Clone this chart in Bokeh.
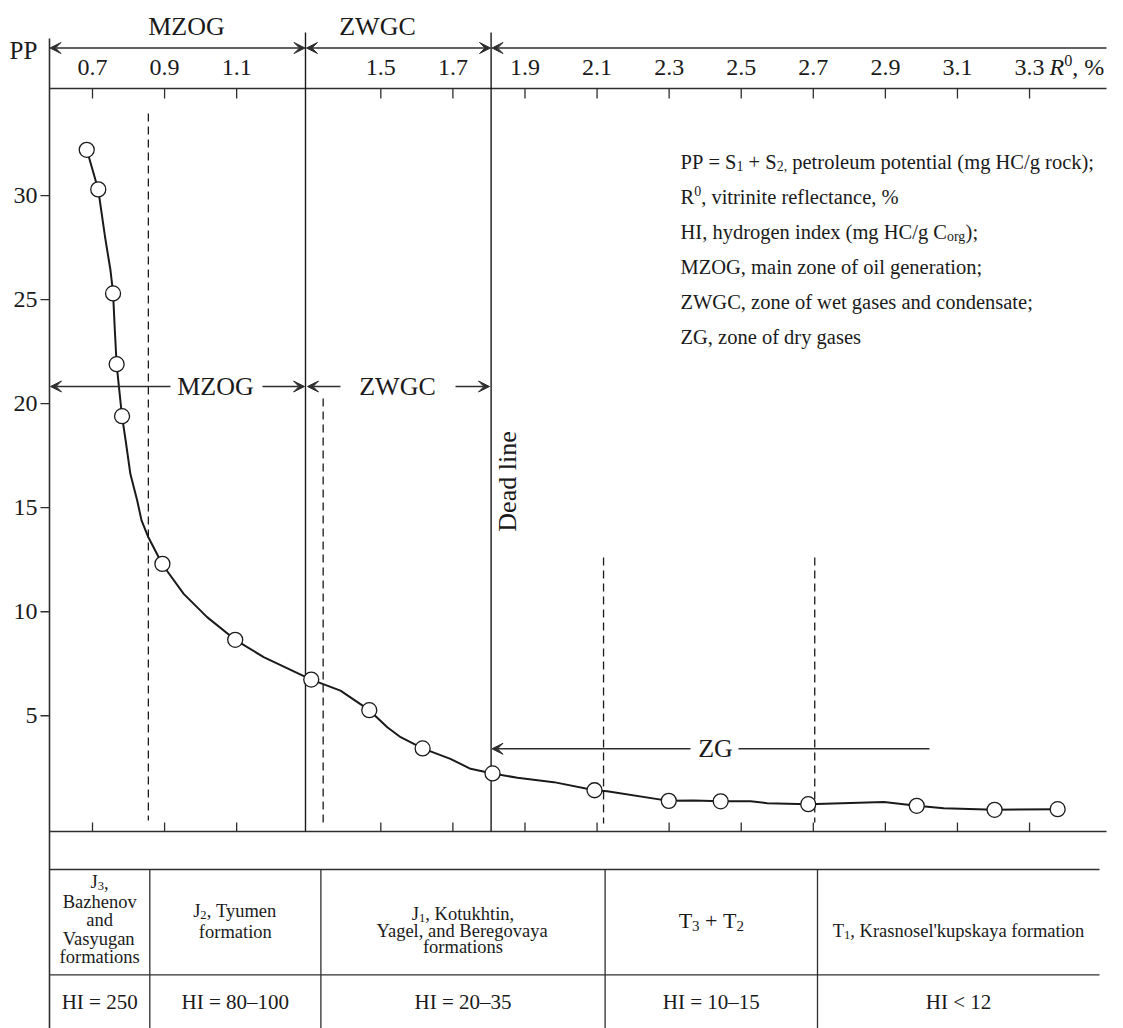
import math
from bokeh.plotting import figure
from bokeh.models import Range1d, Arrow, VeeHead
from bokeh.core.properties import value
from bokeh.embed import file_html
from bokeh.resources import INLINE

# ---------------- data ----------------
r_points = [0.684, 0.716, 0.757, 0.767, 0.782, 0.894, 1.096, 1.307, 1.468,
            1.616, 1.810, 2.093, 2.299, 2.443, 2.686, 2.987, 3.203, 3.378]
pp_points = [32.2, 30.3, 25.3, 21.9, 19.4, 12.3, 8.65, 6.74, 5.27,
             3.43, 2.23, 1.42, 0.91, 0.89, 0.75, 0.67, 0.48, 0.51]

curve_r = [0.684, 0.716, 0.735, 0.750, 0.757, 0.762, 0.767, 0.782, 0.792, 0.805,
           0.824, 0.836, 0.855, 0.894, 0.953, 1.018, 1.096, 1.175, 1.307, 1.388,
           1.468, 1.518, 1.555, 1.616, 1.693, 1.749, 1.810, 1.879, 1.980, 2.093,
           2.128, 2.299, 2.368, 2.443, 2.526, 2.572, 2.686, 2.896, 2.987, 3.062,
           3.203, 3.378]
curve_pp = [32.22, 30.28, 27.99, 26.40, 25.34, 23.52, 21.87, 19.38, 18.23, 16.63,
            15.35, 14.39, 13.58, 12.27, 10.86, 9.74, 8.65, 7.82, 6.74, 6.21,
            5.27, 4.45, 3.97, 3.43, 2.93, 2.45, 2.23, 2.02, 1.81, 1.42,
            1.37, 0.91, 0.93, 0.89, 0.89, 0.80, 0.75, 0.85, 0.67, 0.56,
            0.48, 0.51]

r_ticks = [0.7, 0.9, 1.1, 1.5, 1.7, 1.9, 2.1, 2.3, 2.5, 2.7, 2.9, 3.1, 3.3]
r_tick_labels = ["0.7", "0.9", "1.1", "1.5", "1.7", "1.9", "2.1", "2.3",
                 "2.5", "2.7", "2.9", "3.1", "3.3"]
pp_ticks = [5, 10, 15, 20, 25, 30]
pp_tick_labels = ["5", "10", "15", "20", "25", "30"]

zone_lines_r = [1.291, 1.806]          # MZOG/ZWGC boundary, dead line
dashed_r = [0.855, 1.340, 2.118, 2.704]

hi_labels = ["HI = 250", "HI = 80\u2013100", "HI = 20\u201335", "HI = 10\u201315", "HI < 12"]

# ---------------- layout helpers (reference-pixel -> data) ----------------
X0, SX = 92.0, 360.4      # px of R=0.7, px per unit R
Y0, SY = 819.3, 20.806    # px of PP=0, px per unit PP


def rx(X):
    return 0.7 + (X - X0) / SX


def vy(Y):
    return (Y0 - Y) / SY


FONT = "Liberation Serif"
INK = "#1a1a1a"
AX = "#2e2e2e"
NB = "\u00a0"

W = {' ': 250, NB: 250, '!': 333, '%': 833, "'": 180, '(': 333, ')': 333, '+': 564, ',': 250,
     '-': 333, '.': 250, '/': 278, ':': 278, ';': 278, '<': 564, '=': 564, '>': 564,
     '\u2013': 500,
     'A': 722, 'B': 667, 'C': 667, 'D': 722, 'E': 611, 'F': 556, 'G': 722, 'H': 722,
     'I': 333, 'J': 389, 'K': 722, 'L': 611, 'M': 889, 'N': 722, 'O': 722, 'P': 556,
     'Q': 722, 'R': 667, 'S': 556, 'T': 611, 'U': 722, 'V': 722, 'W': 944, 'X': 722,
     'Y': 722, 'Z': 611,
     'a': 444, 'b': 500, 'c': 444, 'd': 500, 'e': 444, 'f': 333, 'g': 500, 'h': 500,
     'i': 278, 'j': 278, 'k': 500, 'l': 278, 'm': 778, 'n': 500, 'o': 500, 'p': 500,
     'q': 500, 'r': 333, 's': 389, 't': 278, 'u': 500, 'v': 500, 'w': 722, 'x': 500,
     'y': 500, 'z': 444}


def tw(s, fs, italic=False):
    if italic:
        return sum(611 if c == 'R' else W.get(c, 500) for c in s) / 1000.0 * fs
    return sum(W.get(c, 500) for c in s) / 1000.0 * fs


p = figure(width=1123, height=1028,
           x_range=Range1d(rx(0), rx(1123)), y_range=Range1d(vy(1028), vy(0)),
           output_backend="svg", toolbar_location=None,
           x_axis_location=None, y_axis_location=None,
           min_border=0, outline_line_color=None,
           background_fill_color="white", border_fill_color="white")
p.grid.visible = False


def text(x, y, s, fs, align="center", baseline="middle", style="normal", angle=0.0,
         x_offset=0.0, y_offset=0.0):
    p.text(x=[x], y=[y], text=[s], text_font=value(FONT),
           text_font_size=value(f"{fs:.1f}px"), text_font_style=style,
           text_align=align, text_baseline=baseline, text_color=INK, angle=angle,
           x_offset=x_offset, y_offset=y_offset)


def rich(x, y, parts, fs, align="left", start=0.0):
    parts = [(t.replace(" ", NB), k) for t, k in parts]
    sizes = [fs * 0.68 if k in ("sub", "sup") else fs for _, k in parts]
    widths = [tw(t, f, k == "it") for (t, k), f in zip(parts, sizes)]
    total = sum(widths)
    off = start + (0.0 if align == "left" else (-total / 2.0 if align == "center" else -total))
    for (t, k), f, w in zip(parts, sizes, widths):
        dy = 0.23 * fs if k == "sub" else (-0.27 * fs if k == "sup" else 0.0)
        text(x, y, t, f, align="left", baseline="middle",
             style="italic" if k == "it" else "normal", x_offset=off, y_offset=dy)
        off += w


def hseg(xa, xb, Y, width=1.3, color=AX):
    p.segment(x0=[rx(xa)], y0=[vy(Y)], x1=[rx(xb)], y1=[vy(Y)], line_color=color,
              line_width=width)


# ---------------- frame lines ----------------
p.segment(x0=[rx(49)], y0=[vy(38)], x1=[rx(49)], y1=[vy(1030)], line_color=AX, line_width=1.6)
hseg(49, 1106, 88)      # top axis line
hseg(49, 1106, 831)     # bottom axis line
hseg(49, 1099, 869)     # table top
hseg(49, 1099, 974.3)   # table row separator

# PP axis (left)
n = len(pp_ticks)
p.segment(x0=[rx(40)] * n, y0=pp_ticks, x1=[rx(49)] * n, y1=pp_ticks,
          line_color=AX, line_width=1.3)
p.text(x=[rx(37)] * n, y=pp_ticks, text=pp_tick_labels, text_font=value(FONT),
       text_font_size=value("24px"), text_align="right", text_baseline="middle",
       text_color=INK)
text(rx(23), vy(50), "PP", 25)

# R axis (top labels, ticks on top and bottom lines)
m = len(r_ticks)
p.segment(x0=r_ticks, y0=[vy(88)] * m, x1=r_ticks, y1=[vy(98)] * m,
          line_color=AX, line_width=1.3)
p.segment(x0=r_ticks, y0=[vy(831)] * m, x1=r_ticks, y1=[vy(822)] * m,
          line_color=AX, line_width=1.3)
p.text(x=r_ticks, y=[vy(66.5)] * m, text=r_tick_labels, text_font=value(FONT),
       text_font_size=value("24px"), text_align="center", text_baseline="middle",
       text_color=INK)
rich(r_ticks[-1], vy(66.5), [("R", "it"), ("0", "sup"), (", %", "n")], 24, align="left",
     start=tw(r_tick_labels[-1], 24) / 2.0 + 5)

# zone boundary lines and dashed lines
p.segment(x0=zone_lines_r, y0=[vy(32)] * 2, x1=zone_lines_r, y1=[vy(831)] * 2,
          line_color=INK, line_width=1.4)
dash_top = [vy(113), vy(398), vy(557), vy(557)]
dash_bot = [vy(820), vy(826), vy(823), vy(822)]
p.segment(x0=dashed_r, y0=dash_top, x1=dashed_r, y1=dash_bot, line_color=INK,
          line_width=1.3, line_dash="8 5")


def arrow(xa, xb, Y, head_start=True, head_end=True):
    p.add_layout(Arrow(x_start=rx(xa), y_start=vy(Y), x_end=rx(xb), y_end=vy(Y),
                       line_color=AX, line_width=1.4,
                       start=VeeHead(size=11, fill_color=AX, line_color=AX, line_width=1) if head_start else None,
                       end=VeeHead(size=11, fill_color=AX, line_color=AX, line_width=1) if head_end else None))


arrow(49.5, 304.5, 47.5)
arrow(306, 490, 47.5)
arrow(491.5, 1106, 47.5, head_start=True, head_end=False)
text(rx(186), vy(26), "MZOG", 26)
text(rx(377), vy(26), "ZWGC", 26)

arrow(170, 50, 386, head_start=False)
arrow(262, 304, 386, head_start=False)
text(rx(215), vy(386), "MZOG", 26)
arrow(340, 307, 386, head_start=False)
arrow(455, 489, 386, head_start=False)
text(rx(397), vy(386), "ZWGC", 26)
arrow(690, 491.5, 748.3, head_start=False)
hseg(738, 929, 748.3, width=1.4)
text(rx(715), vy(748.3), "ZG", 26)

text(rx(507), vy(481), "Dead line", 26, angle=math.pi / 2)

# ---------------- curve and points ----------------
p.line(curve_r, curve_pp, line_color=INK, line_width=2.0, line_join="round")
p.scatter(r_points, pp_points, size=15, marker="circle", fill_color="white",
          line_color=INK, line_width=1.3)

# ---------------- legend text ----------------
LX = rx(680)
LF = 20.5
legend_y = [161, 196, 231, 266, 301, 336]
rich(LX, vy(legend_y[0]), [("PP = S", "n"), ("1", "sub"), (" + S", "n"), ("2,", "sub"),
                           (" petroleum potential (mg HC/g rock);", "n")], LF)
rich(LX, vy(legend_y[1]), [("R", "n"), ("0", "sup"), (", vitrinite reflectance, %", "n")], LF)
rich(LX, vy(legend_y[2]), [("HI, hydrogen index (mg HC/g C", "n"), ("org", "sub"), (");", "n")], LF)
rich(LX, vy(legend_y[3]), [("MZOG, main zone of oil generation;", "n")], LF)
rich(LX, vy(legend_y[4]), [("ZWGC, zone of wet gases and condensate;", "n")], LF)
rich(LX, vy(legend_y[5]), [("ZG, zone of dry gases", "n")], LF)

# ---------------- table ----------------
col_edges = [49, 149.3, 320.4, 604.6, 817, 1099]
p.segment(x0=[rx(x) for x in col_edges[1:-1]], y0=[vy(869)] * 4,
          x1=[rx(x) for x in col_edges[1:-1]], y1=[vy(1030)] * 4, line_color=AX, line_width=1.3)
centers = [rx((a + b) / 2.0) for a, b in zip(col_edges[:-1], col_edges[1:])]
TF = 18.5
rich(centers[0], vy(881.7), [("J", "n"), ("3", "sub"), (",", "n")], TF, align="center")
for s, Y in [("Bazhenov", 901.5), ("and", 919.5), ("Vasyugan", 938), ("formations", 956.7)]:
    rich(centers[0], vy(Y), [(s, "n")], TF, align="center")
rich(centers[1], vy(910), [("J", "n"), ("2", "sub"), (", Tyumen", "n")], TF, align="center")
rich(centers[1], vy(931.7), [("formation", "n")], TF, align="center")
rich(centers[2], vy(913), [("J", "n"), ("1", "sub"), (", Kotukhtin,", "n")], TF, align="center")
rich(centers[2], vy(930), [("Yagel, and Beregovaya", "n")], TF, align="center")
rich(centers[2], vy(946.7), [("formations", "n")], TF, align="center")
rich(centers[3], vy(920), [("T", "n"), ("3", "sub"), (" + T", "n"), ("2", "sub")], 22, align="center")
rich(centers[4], vy(930), [("T", "n"), ("1", "sub"), (", Krasnosel'kupskaya formation", "n")], TF, align="center")
for c, s in zip(centers, hi_labels):
    rich(c, vy(1001.7), [(s, "n")], 21, align="center")

open("out.html", "w").write(file_html(p, INLINE))
